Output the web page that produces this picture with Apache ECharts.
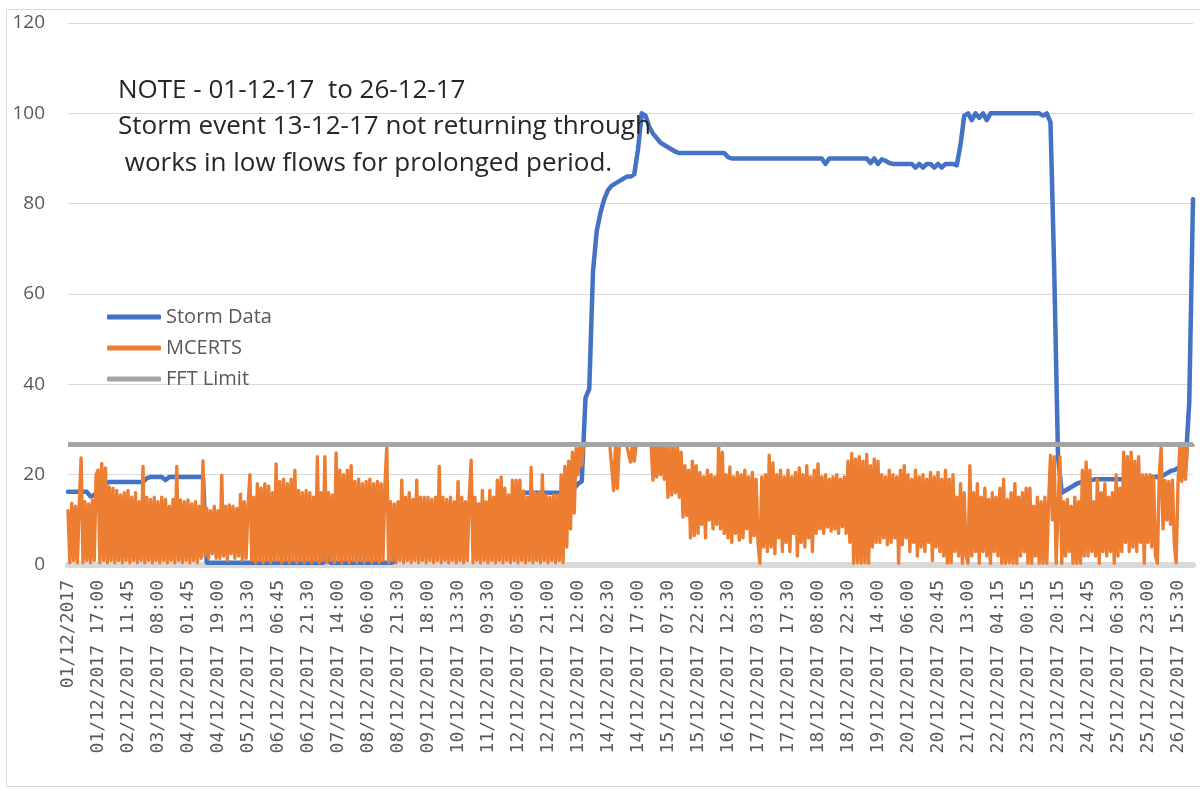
<!DOCTYPE html>
<html><head><meta charset="utf-8">
<script src="https://cdn.jsdelivr.net/npm/echarts@6/dist/echarts.min.js"></script>
<style>html,body{margin:0;padding:0;background:#fff}#c{width:1200px;height:791px}</style>
</head><body><div id="c"></div>
<script>
const tickLabels = [
  '01/12/2017','01/12/2017 17:00','02/12/2017 11:45','03/12/2017 08:00','04/12/2017 01:45',
  '04/12/2017 19:00','05/12/2017 13:30','06/12/2017 06:45','06/12/2017 21:30','07/12/2017 14:00',
  '08/12/2017 06:00','08/12/2017 21:30','09/12/2017 18:00','10/12/2017 13:30','11/12/2017 09:30',
  '12/12/2017 05:00','12/12/2017 21:00','13/12/2017 12:00','14/12/2017 02:30','14/12/2017 17:00',
  '15/12/2017 07:30','15/12/2017 22:00','16/12/2017 12:30','17/12/2017 03:00','17/12/2017 17:30',
  '18/12/2017 08:00','18/12/2017 22:30','19/12/2017 14:00','20/12/2017 06:00','20/12/2017 20:45',
  '21/12/2017 13:00','22/12/2017 04:15','23/12/2017 00:15','23/12/2017 20:15','24/12/2017 12:45',
  '25/12/2017 06:30','25/12/2017 23:00','26/12/2017 15:30'
];
const pointsPerLabel = 8;

// Storm Data (8 readings per labelled interval)
const stormData = [
  16.2,16.2,16.2,16.2,16.2,16.2,15.2,15.5,
  16.5,17.5,18,18.4,18.4,18.4,18.4,18.4,
  18.4,18.4,18.4,18.4,18.4,19.2,19.5,19.5,
  19.5,19.5,18.8,19.5,19.5,19.5,19.5,19.5,
  19.5,19.5,19.5,19.5,19.5,0.5,0.5,0.5,
  0.5,0.5,0.5,0.5,0.5,0.5,0.5,0.5,
  0.5,0.5,0.5,0.5,0.5,0.5,0.5,0.5,
  0.5,0.5,0.5,0.5,0.5,0.5,0.5,0.5,
  0.5,0.5,0.5,0.5,0.5,5,0.5,0.5,
  0.5,0.5,0.5,0.5,0.5,0.5,0.5,0.5,
  0.5,0.5,0.5,0.5,0.5,0.5,0.5,0.7,
  4,9,12,12.5,12.5,12.5,13,13,
  13,13,13,13,13,13,13,13,
  13.3,13.3,13.3,13.3,13.3,13.3,13.3,13.3,
  13.3,13.3,13.3,13.3,13.3,13.5,14,14.5,
  15,15.5,16,16,16,16,16,16,
  16,16,16,16,16,16,16,17,
  18,18.5,37,39,65,74,78,81,
  83,84,84.5,85,85.5,86,86,86.5,
  92,100,99.5,97,95.5,94.5,93.5,93,
  92.5,92,91.5,91.2,91.2,91.2,91.2,91.2,
  91.2,91.2,91.2,91.2,91.2,91.2,91.2,91.2,
  90.3,90,90,90,90,90,90,90,
  90,90,90,90,90,90,90,90,
  90,90,90,90,90,90,90,90,
  90,90,88.8,90,90,90,90,90,
  90,90,90,90,90,90,89,90,
  88.8,89.8,89.5,89,88.8,88.8,88.8,88.8,
  88.8,88.8,88,88.8,88,88.8,88.8,88,
  88.8,88,88.8,88.8,88.8,88.5,93,99.5,
  100,98.5,100,99,100,98.5,100,100,
  100,100,100,100,100,100,100,100,
  100,100,100,100,99.5,100,98,65,
  24,16,16.5,17,17.5,18,18.3,18.5,
  18.7,18.8,19,19,19,19,19,19,
  19,19,19,19,19,19,19,19,
  19,19.5,19.5,19.5,19.8,20.3,20.8,21,
  21.5,21.7,22,36,81
];

// MCERTS (16 readings per labelled interval)
const mcertsData = [
  12,0.5,13.7,1,13,0.5,13.7,23.7,0.5,14,1,13.5,0.5,14.4,1,20,
  21,0.5,22.5,1,21.5,0.5,17.3,1,17,0.5,16.5,1,15.5,0.5,16,1,
  16.5,0.5,15,1,16,0.5,14,1,21.8,0.5,15,1,14.5,0.5,15,1,
  14,0.5,15,1,14.5,0.5,13,1,14.5,0.5,21.8,1,14.4,0.5,14,1,
  14.4,0.5,13.5,1,14,0.5,13,1.5,23.1,2,12.5,1.5,12,2.5,13,1.5,
  12,1.5,19.9,2,13,1,13.3,2.5,13,1.5,12.5,2,15.7,1,14,1.5,
  13,20,1,15,0.5,18,1,17,0.5,18,1,17.5,0.5,16,1,22.4,
  1,18.5,0.5,19,1,18,0.5,19,1,21,0.5,16.5,1,16,0.5,16.5,
  1,16,0.5,15,1,24,0.5,16,1,24,0.5,16,1,15.5,0.5,24.8,
  1,21,0.5,20,1,21,0.5,22,1,18.5,0.5,19,1,18,0.5,18.5,
  1,19,0.5,18,1,18.5,0.5,18,1,17.5,25.9,0.5,14,1,13.5,0.5,
  14,1,18.8,0.5,15,1,16,0.5,14.5,1,18.8,0.5,15,1,15,0.5,
  15,1,14.5,0.5,15,1,21.8,0.5,15,1,14.5,0.5,15,1,14,0.5,
  18.5,1,15,0.5,14,1,15,23.2,0.5,15,1,13.5,0.5,16.5,1,14,
  0.5,16.5,1,15,0.5,18.8,1,19.5,0.5,17,1,15.5,0.5,18.8,1,18.8,
  0.5,18.8,1,16.4,0.5,15,1,21.6,0.5,16,1,16,0.5,20,1,15.5,
  0.5,15,1,15.5,0.5,15.5,1,20,0.5,21.8,4,23,8,25,11.5,25.8,
  20,26.5,22,26.5,26.5,26.5,26.5,26.5,26.5,26.5,26.5,26.5,26.5,26.5,26.5,26.5,
  26.5,26.5,26.5,16.5,26.5,17,26.5,26.5,26.5,26.5,26.5,26.5,22.8,26.5,23,26.5,
  26.5,26.5,26.5,26.5,26.5,26.5,26.5,26.5,18.8,26.5,19.5,26.5,20,26.5,19,26.5,
  15,26.5,15.5,26,16,26.5,15,25,10.6,22,11,21,6,23,6.5,22,
  7,20.5,9,19.5,6,21,10,20,8,19.5,9,26.2,8,25,7,20,
  6,21.7,5,19.5,7,20.5,5.5,20,6,21,8,19.5,5,20.5,6.5,19,
  5,0.4,19.5,4,20,3,24.3,4,22.6,2.5,20,6,21,3,19.5,5,
  21,3,19.5,7,20.5,2,21.5,5,20,4,22,6,19.5,3,21,7,
  22.4,8,19.5,7,20,8.4,19,7.5,19.5,8,20,7,19,8.5,19.5,7,
  23,5,24.7,0.4,23.5,0.5,24,0.4,23,0.5,24.5,0.4,22,4,23.5,5,
  23,5,20,6,19.5,4.5,21,5,20,6,19.5,0.4,21,4.5,22,6,
  20,3,19,5,21,2,19.5,4,20,3,19,5,20.5,1,19.5,4,
  20.5,3,19,2,21,0.4,19,0.5,20,3,15,2,18,0.4,16,2,
  0.4,22,2,16,3,18,0.4,15,3,17,2,14.5,0.4,16,3,15,
  2,17,0.4,19,0.4,14.5,0.5,16,0.4,18,0.4,15,2,16,3,17,
  0.4,17,0.4,13,2,15,0.4,14,0.4,15,0.4,14,24.3,10,24,0.4,
  0.4,24,0.4,14,2,14.5,3,13,0.4,15,0.4,14,0.4,21,2,22.8,
  2,21,3,14,2,19,0.4,16,3,18,2,15,3,16,0.4,20,
  2,17,3,25,5,24,3,25,4,23,3,24,5,20,0.4,20,
  5,20,4,19.5,2,0.4,20,25.9,8,18.8,10,18.5,9,18.8,5,0.5,
  18,26,18.5,26.5,19,26.5,26.5,26.5,26.5
];

const fftLimit = 26.7;
const seriesNames = ['Storm Data', 'MCERTS', 'FFT Limit'];
const noteLines = [
  'NOTE - 01-12-17  to 26-12-17',
  'Storm event 13-12-17 not returning through',
  ' works in low flows for prolonged period.'
];

const categories = stormData.map((_, i) => String(i));
const mcertsCategories = mcertsData.map((_, i) => String(i));
const fftData = categories.map(() => fftLimit);

const chart = echarts.init(document.getElementById('c'), null, {renderer: 'canvas'});
chart.setOption({
  animation: false,
  backgroundColor: '#ffffff',
  grid: {left: 68, right: 7, top: 23, bottom: 226, containLabel: false},
  legend: {
    data: seriesNames,
    orient: 'vertical',
    left: 107, top: 307, padding: 0,
    icon: 'roundRect',
    itemWidth: 54, itemHeight: 5, itemGap: 11,
    textStyle: {color: '#595959', fontSize: 20, fontFamily: 'Open Sans', lineHeight: 20},
    selectedMode: false
  },
  xAxis: [{
    type: 'category',
    data: categories,
    boundaryGap: false,
    offset: 3,
    axisLine: {lineStyle: {color: '#D9D9D9', width: 6}},
    axisTick: {show: false},
    splitLine: {show: false},
    axisLabel: {
      interval: pointsPerLabel - 1,
      rotate: 90,
      margin: 12,
      color: '#595959',
      fontSize: 18,
      fontFamily: 'DejaVu Sans Mono',
      formatter: (v, i) => (i % pointsPerLabel === 0 && tickLabels[i / pointsPerLabel]) ? tickLabels[i / pointsPerLabel] : ''
    }
  }, {
    type: 'category',
    data: mcertsCategories,
    boundaryGap: false,
    show: false
  }],
  yAxis: {
    type: 'value',
    min: 0, max: 120, interval: 20,
    axisLine: {show: false},
    axisTick: {show: false},
    splitLine: {lineStyle: {color: '#D9D9D9', width: 1}},
    axisLabel: {color: '#595959', fontSize: 19, fontFamily: 'Open Sans', margin: 23}
  },
  series: [
    {name: seriesNames[0], type: 'line', xAxisIndex: 0, data: stormData, showSymbol: false, symbol: 'none', z: 2,
     color: '#4472C4', lineStyle: {color: '#4472C4', width: 4.5, join: 'round', cap: 'round'}, silent: true},
    {name: seriesNames[1], type: 'line', xAxisIndex: 1, data: mcertsData, showSymbol: false, symbol: 'none', z: 3,
     color: '#ED7D31', lineStyle: {color: '#ED7D31', width: 3.4, join: 'round', cap: 'round'}, silent: true},
    {name: seriesNames[2], type: 'line', xAxisIndex: 0, data: fftData, showSymbol: false, symbol: 'none', z: 4,
     color: '#A5A5A5', lineStyle: {color: '#A5A5A5', width: 5}, silent: true}
  ],
  graphic: [
    {type: 'rect', silent: true, z: -1, shape: {x: 6.5, y: 9.5, width: 1300, height: 777},
     style: {fill: 'none', stroke: '#D9D9D9', lineWidth: 1}},
    {type: 'text', left: 118, top: 72, silent: true, z: 10,
     style: {text: noteLines.join('\n'), fill: '#262626', fontSize: 26, fontFamily: 'Open Sans', lineHeight: 36.5}}
  ]
});
</script>
</body></html>
